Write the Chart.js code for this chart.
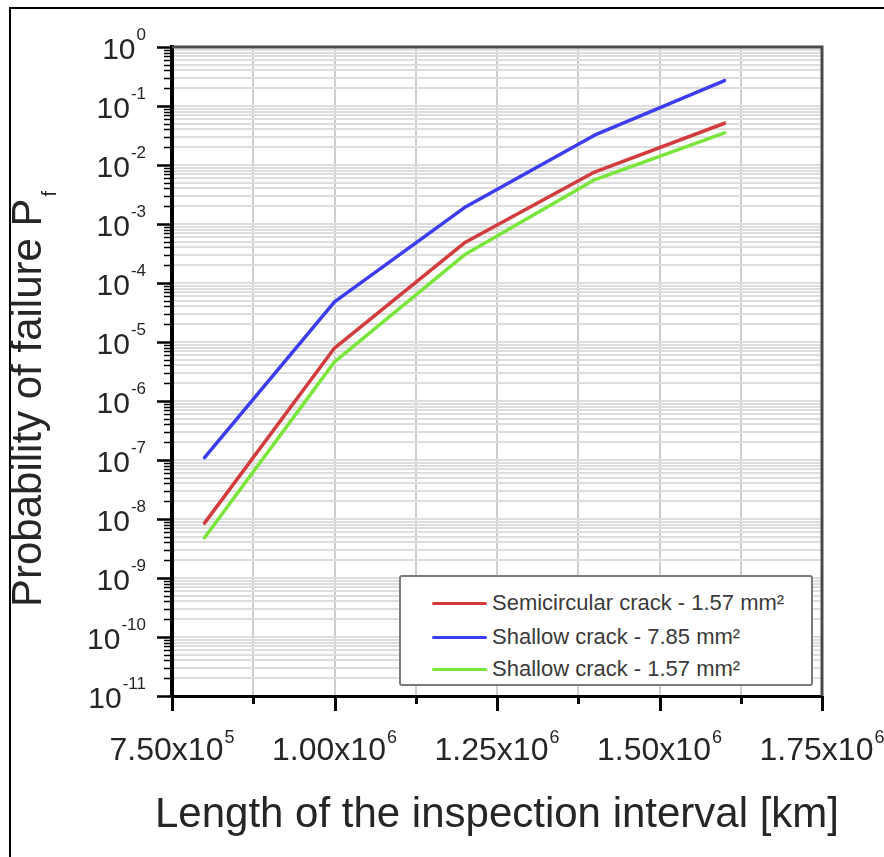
<!DOCTYPE html>
<html>
<head>
<meta charset="utf-8">
<script src="https://cdn.jsdelivr.net/npm/chart.js@4.4.1/dist/chart.umd.min.js"></script>
<style>
  html, body { margin: 0; padding: 0; background: #fff; }
  #wrap { position: relative; width: 884px; height: 857px; overflow: hidden; }
  #legend { position: absolute; left: 399px; top: 575px; width: 414px; height: 111px;
    border: 2px solid #7a7a7a; border-radius: 3px; background: #fff; box-sizing: border-box; }
  .row { position: absolute; left: 0; height: 30px; }
  .swatch { position: absolute; left: 31px; width: 55px; height: 3px; border-radius: 2px; }
  .ltext { position: absolute; left: 91px; white-space: nowrap; font-family: "Liberation Sans", Arial, sans-serif;
    font-size: 22px; color: #3a3a3a; line-height: 22px; }
</style>
</head>
<body>
<div id="wrap">
  <canvas id="c" width="884" height="857"></canvas>
  <div id="legend"></div>
</div>
<script>
// ---- data ----
const xValues = [800000, 1000000, 1200000, 1400000, 1600000];
const semicircular157 = [8.5e-9, 7.9e-6, 4.8e-4, 7.6e-3, 5.1e-2];
const shallow785 = [1.1e-7, 4.8e-5, 1.9e-3, 3.2e-2, 0.27];
const shallow157 = [4.8e-9, 4.6e-6, 3.0e-4, 5.6e-3, 3.5e-2];
const seriesNames = ['Semicircular crack - 1.57 mm\u00B2', 'Shallow crack - 7.85 mm\u00B2', 'Shallow crack - 1.57 mm\u00B2'];
const seriesColors = ['#d23c3c', '#3c3cf0', '#7ae63c'];

// ---- tick labels ----
const xMajorTicks = [750000, 1000000, 1250000, 1500000, 1750000];
const xTickMantissas = ['7.50', '1.00', '1.25', '1.50', '1.75'];
const xTickExponents = ['5', '6', '6', '6', '6'];
const yDecadeExponents = [0, -1, -2, -3, -4, -5, -6, -7, -8, -9, -10, -11];
const xTitle = 'Length of the inspection interval [km]';
const yTitle = 'Probability of failure P';
const yTitleSub = 'f';

const FONT = '"Liberation Sans", Arial, Helvetica, sans-serif';

function toPoints(vals) { return xValues.map((x, i) => ({ x: x, y: vals[i] })); }

const decorPlugin = {
  id: 'decor',
  beforeDraw(chart) {
    const ctx = chart.ctx;
    ctx.save();
    ctx.fillStyle = '#fff';
    ctx.fillRect(0, 0, chart.width, chart.height);
    ctx.restore();
  },
  afterDraw(chart) {
    const ctx = chart.ctx;
    const a = chart.chartArea;
    const xs = chart.scales.x, ys = chart.scales.y;
    ctx.save();
    // outer figure frame (left & top visible)
    ctx.fillStyle = '#000';
    ctx.fillRect(9, 7, 2, chart.height - 7);
    ctx.fillRect(9, 7, chart.width - 9, 2);

    // top/right plot frame
    ctx.strokeStyle = '#4a4a4a';
    ctx.lineWidth = 3;
    ctx.beginPath();
    ctx.moveTo(a.left, a.top);
    ctx.lineTo(a.right, a.top);
    ctx.lineTo(a.right, a.bottom);
    ctx.stroke();

    // y ticks (outward)
    ctx.strokeStyle = '#000';
    ys.ticks.forEach(t => {
      const py = Math.round(ys.getPixelForValue(t.value)) + 0.5;
      const major = t.major;
      ctx.lineWidth = major ? 2.5 : 1.5;
      ctx.beginPath();
      ctx.moveTo(a.left, py);
      ctx.lineTo(a.left - (major ? 15 : 8), py);
      ctx.stroke();
    });
    // x ticks (outward)
    xs.ticks.forEach(t => {
      const px = Math.round(xs.getPixelForValue(t.value)) + 0.5;
      const major = xMajorTicks.indexOf(t.value) >= 0;
      ctx.lineWidth = 3;
      ctx.beginPath();
      ctx.moveTo(px, a.bottom);
      ctx.lineTo(px, a.bottom + (major ? 15 : 8));
      ctx.stroke();
    });

    // y labels 10^n
    ctx.fillStyle = '#262626';
    ctx.textBaseline = 'alphabetic';
    ctx.textAlign = 'left';
    const R = 146;
    yDecadeExponents.forEach(e => {
      const py = ys.getPixelForValue(Math.pow(10, e));
      const sup = e === 0 ? '0' : '-' + Math.abs(e);
      ctx.font = '17px ' + FONT;
      const sw = ctx.measureText(sup).width;
      ctx.font = '30px ' + FONT;
      const mw = ctx.measureText('10').width;
      const sx = R - sw;
      const mx = sx - 1 - mw;
      const base = py + 12;
      ctx.fillText('10', mx, base);
      ctx.font = '17px ' + FONT;
      ctx.fillText(sup, sx, base - 19);
    });

    // x labels m x 10^e
    xMajorTicks.forEach((v, i) => {
      const px = xs.getPixelForValue(v);
      const main = xTickMantissas[i] + 'x10';
      const sup = xTickExponents[i];
      ctx.font = '32px ' + FONT;
      const mw = ctx.measureText(main).width;
      ctx.font = '18px ' + FONT;
      const sw = ctx.measureText(sup).width;
      const start = px - (mw + 1 + sw) / 2;
      ctx.font = '32px ' + FONT;
      ctx.fillText(main, start, 760);
      ctx.font = '18px ' + FONT;
      ctx.fillText(sup, start + mw + 1, 743);
    });

    // x title
    ctx.font = '42px ' + FONT;
    ctx.textAlign = 'center';
    ctx.fillText(xTitle, (a.left + a.right) / 2, 827);

    // y title (rotated)
    ctx.save();
    ctx.translate(41, 607);
    ctx.rotate(-Math.PI / 2);
    ctx.textAlign = 'left';
    ctx.font = '42px ' + FONT;
    ctx.fillText(yTitle, 0, 0);
    const tw = ctx.measureText(yTitle).width;
    ctx.font = '20px ' + FONT;
    ctx.fillText(yTitleSub, tw + 2, 15);
    ctx.restore();

    ctx.restore();
  }
};

const chart = new Chart(document.getElementById('c'), {
  type: 'line',
  data: {
    datasets: [
      { label: seriesNames[0], data: toPoints(semicircular157), borderColor: seriesColors[0] },
      { label: seriesNames[1], data: toPoints(shallow785), borderColor: seriesColors[1] },
      { label: seriesNames[2], data: toPoints(shallow157), borderColor: seriesColors[2] }
    ].map(d => Object.assign(d, { borderWidth: 3.5, pointRadius: 0, tension: 0, fill: false,
      borderCapStyle: 'round', borderJoinStyle: 'round' }))
  },
  options: {
    responsive: false,
    animation: false,
    devicePixelRatio: 1,
    layout: { padding: { top: 47, right: 62, left: 0, bottom: 0 } },
    plugins: { legend: { display: false }, tooltip: { enabled: false } },
    scales: {
      x: {
        type: 'linear',
        min: 750000,
        max: 1750000,
        ticks: { display: false, stepSize: 125000 },
        grid: { color: '#cdcdcd', lineWidth: 2, drawTicks: false },
        border: { display: true, color: '#000', width: 3 },
        afterFit(scale) { scale.height = 161; }
      },
      y: {
        type: 'logarithmic',
        min: 1e-11,
        max: 1,
        ticks: { display: false, autoSkip: false },
        grid: { color: '#dddddd', lineWidth: 2, drawTicks: false },
        border: { display: true, color: '#000', width: 4 },
        afterBuildTicks(scale) {
          const t = [];
          yDecadeExponents.slice().reverse().forEach(e => {
            const dec = Math.pow(10, e);
            t.push({ value: dec, major: true });
            if (e < 0) {
              for (let m = 2; m <= 9; m++) t.push({ value: parseFloat((m * dec).toPrecision(3)), major: false });
            }
          });
          scale.ticks = t;
        },
        afterFit(scale) { scale.width = 172; }
      }
    }
  },
  plugins: [decorPlugin]
});

// HTML legend built from the datasets
const legend = document.getElementById('legend');
const rowTops = [27, 61, 93];
chart.data.datasets.forEach((ds, i) => {
  const row = document.createElement('div');
  row.className = 'row';
  row.style.top = (rowTops[i] - 2) + 'px';
  const sw = document.createElement('div');
  sw.className = 'swatch';
  sw.style.background = ds.borderColor;
  sw.style.top = '0px';
  const tx = document.createElement('div');
  tx.className = 'ltext';
  tx.style.top = '-10px';
  tx.textContent = ds.label;
  row.appendChild(sw);
  row.appendChild(tx);
  legend.appendChild(row);
});
</script>
</body>
</html>
